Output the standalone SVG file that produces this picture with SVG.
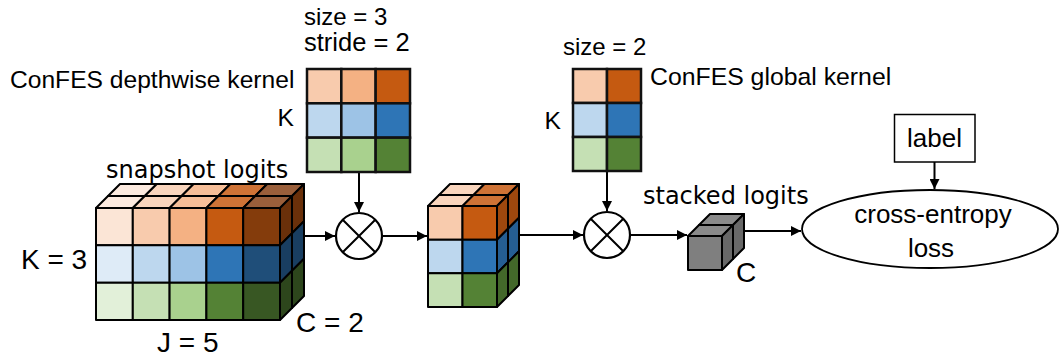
<svg xmlns="http://www.w3.org/2000/svg" width="1064" height="361" viewBox="0 0 1064 361">
  <style>
    .cell { stroke: #000; stroke-width: 2; stroke-linejoin: round; }
    .kcell { stroke: #111; stroke-width: 2.5; }
    .wire { stroke: #000; stroke-width: 2; fill: none; }
    .op { stroke: #000; stroke-width: 2.2; fill: #fff; }
    .cal { font-family: "Liberation Sans", Arial, sans-serif; font-size: 24.6px; fill: #000; }
    .ari { font-family: "Liberation Sans", Arial, sans-serif; font-size: 28px; fill: #000; }
    .dv { font-family: "DejaVu Sans", sans-serif; font-size: 24px; fill: #000; }
    .mid { text-anchor: middle; }
    .o1 { fill: #FBE5D6; } .o2 { fill: #F8CBAD; } .o3 { fill: #F4B183; } .o4 { fill: #C55A11; } .o5 { fill: #843C0C; }
    .b1 { fill: #DEEBF7; } .b2 { fill: #BDD7EE; } .b3 { fill: #9DC3E6; } .b4 { fill: #2E75B6; } .b5 { fill: #1F4E79; }
    .g1 { fill: #E2F0D9; } .g2 { fill: #C5E0B4; } .g3 { fill: #A9D18E; } .g4 { fill: #548235; } .g5 { fill: #385723; }
    .t1 { fill: #FCEADF; } .t2 { fill: #F9D5BD; } .t3 { fill: #F6BE98; } .t4 { fill: #CF7336; } .t5 { fill: #9A5F3B; }
    .ro4 { fill: #9E480E; } .ro5 { fill: #6A300A; }
    .rb4 { fill: #255E92; } .rb5 { fill: #193E61; }
    .rg4 { fill: #43682A; } .rg5 { fill: #2D461C; }
    .gf { fill: #7F7F7F; } .gt { fill: #8A8A8A; } .gr { fill: #686868; }
  </style>
  <defs>
    <marker id="arrow" viewBox="0 0 10 10" refX="10" refY="5" markerWidth="11" markerHeight="10" markerUnits="userSpaceOnUse" orient="auto">
      <path d="M0,0 L10,5 L0,10 z" fill="#000"/>
    </marker>
  </defs>

  <!-- connectors -->
  <g id="connectors">
    <line class="wire" x1="305" y1="236" x2="335" y2="236" marker-end="url(#arrow)"/>
    <line class="wire" x1="359" y1="172" x2="359" y2="212" marker-end="url(#arrow)"/>
    <line class="wire" x1="382" y1="236" x2="427" y2="236" marker-end="url(#arrow)"/>
    <line class="wire" x1="519" y1="235" x2="583" y2="235" marker-end="url(#arrow)"/>
    <line class="wire" x1="607" y1="171" x2="607" y2="211" marker-end="url(#arrow)"/>
    <line class="wire" x1="630" y1="235" x2="687" y2="235" marker-end="url(#arrow)"/>
    <line class="wire" x1="745" y1="231" x2="801" y2="231" marker-end="url(#arrow)"/>
    <line class="wire" x1="934.5" y1="162" x2="934.5" y2="189" marker-end="url(#arrow)"/>
  </g>

  <!-- snapshot logits: J x K x C block -->
  <g id="snapshot-logits">
    <!-- top face, front slice then back slice -->
    <polygon class="cell t1" points="96,208 132.8,208 144.8,196 108,196"/>
    <polygon class="cell t1" points="108,196 144.8,196 156.8,184 120,184"/>
    <polygon class="cell t2" points="132.8,208 169.6,208 181.6,196 144.8,196"/>
    <polygon class="cell t2" points="144.8,196 181.6,196 193.6,184 156.8,184"/>
    <polygon class="cell t3" points="169.6,208 206.4,208 218.4,196 181.6,196"/>
    <polygon class="cell t3" points="181.6,196 218.4,196 230.4,184 193.6,184"/>
    <polygon class="cell t4" points="206.4,208 243.2,208 255.2,196 218.4,196"/>
    <polygon class="cell t4" points="218.4,196 255.2,196 267.2,184 230.4,184"/>
    <polygon class="cell t5" points="243.2,208 280,208 292,196 255.2,196"/>
    <polygon class="cell t5" points="255.2,196 292,196 304,184 267.2,184"/>
    <!-- right face -->
    <polygon class="cell ro5" points="280,208 292,196 292,233.33 280,245.33"/>
    <polygon class="cell ro5" points="292,196 304,184 304,221.33 292,233.33"/>
    <polygon class="cell rb5" points="280,245.33 292,233.33 292,270.67 280,282.67"/>
    <polygon class="cell rb5" points="292,233.33 304,221.33 304,258.67 292,270.67"/>
    <polygon class="cell rg5" points="280,282.67 292,270.67 292,308 280,320"/>
    <polygon class="cell rg5" points="292,270.67 304,258.67 304,296 292,308"/>
    <!-- front face -->
    <rect class="cell o1" x="96" y="208" width="36.8" height="37.33"/>
    <rect class="cell o2" x="132.8" y="208" width="36.8" height="37.33"/>
    <rect class="cell o3" x="169.6" y="208" width="36.8" height="37.33"/>
    <rect class="cell o4" x="206.4" y="208" width="36.8" height="37.33"/>
    <rect class="cell o5" x="243.2" y="208" width="36.8" height="37.33"/>
    <rect class="cell b1" x="96" y="245.33" width="36.8" height="37.33"/>
    <rect class="cell b2" x="132.8" y="245.33" width="36.8" height="37.33"/>
    <rect class="cell b3" x="169.6" y="245.33" width="36.8" height="37.33"/>
    <rect class="cell b4" x="206.4" y="245.33" width="36.8" height="37.33"/>
    <rect class="cell b5" x="243.2" y="245.33" width="36.8" height="37.33"/>
    <rect class="cell g1" x="96" y="282.67" width="36.8" height="37.33"/>
    <rect class="cell g2" x="132.8" y="282.67" width="36.8" height="37.33"/>
    <rect class="cell g3" x="169.6" y="282.67" width="36.8" height="37.33"/>
    <rect class="cell g4" x="206.4" y="282.67" width="36.8" height="37.33"/>
    <rect class="cell g5" x="243.2" y="282.67" width="36.8" height="37.33"/>
    <text class="dv" x="106" y="178">snapshot logits</text>
    <text class="ari" x="21" y="269">K = 3</text>
    <text class="ari" x="296" y="332">C = 2</text>
    <text class="ari" x="157" y="352">J = 5</text>
  </g>

  <!-- depthwise kernel -->
  <g id="depthwise-kernel">
    <rect class="kcell o2" x="307" y="69" width="34.33" height="34.33"/>
    <rect class="kcell o3" x="341.33" y="69" width="34.33" height="34.33"/>
    <rect class="kcell o4" x="375.67" y="69" width="34.33" height="34.33"/>
    <rect class="kcell b2" x="307" y="103.33" width="34.33" height="34.33"/>
    <rect class="kcell b3" x="341.33" y="103.33" width="34.33" height="34.33"/>
    <rect class="kcell b4" x="375.67" y="103.33" width="34.33" height="34.33"/>
    <rect class="kcell g2" x="307" y="137.67" width="34.33" height="34.33"/>
    <rect class="kcell g3" x="341.33" y="137.67" width="34.33" height="34.33"/>
    <rect class="kcell g4" x="375.67" y="137.67" width="34.33" height="34.33"/>
    <text class="cal" x="304" y="25" style="font-size:24px">size = 3</text>
    <text class="cal" x="304" y="51" style="font-size:25.5px">stride = 2</text>
    <text class="cal" x="10" y="88">ConFES depthwise kernel</text>
    <text class="cal" x="294" y="126" text-anchor="end">K</text>
  </g>

  <!-- first product -->
  <g id="op-depthwise">
    <circle class="op" cx="359" cy="236" r="23"/>
    <path class="wire" d="M342.7,219.7 L375.3,252.3 M375.3,219.7 L342.7,252.3"/>
  </g>

  <!-- intermediate block -->
  <g id="intermediate-logits">
    <polygon class="cell t2" points="428,206 462.5,206 473.5,195 439,195"/>
    <polygon class="cell t2" points="439,195 473.5,195 484.5,184 450,184"/>
    <polygon class="cell t4" points="462.5,206 497,206 508,195 473.5,195"/>
    <polygon class="cell t4" points="473.5,195 508,195 519,184 484.5,184"/>
    <polygon class="cell ro4" points="497,206 508,195 508,228.67 497,239.67"/>
    <polygon class="cell ro4" points="508,195 519,184 519,217.67 508,228.67"/>
    <polygon class="cell rb4" points="497,239.67 508,228.67 508,262.33 497,273.33"/>
    <polygon class="cell rb4" points="508,228.67 519,217.67 519,251.33 508,262.33"/>
    <polygon class="cell rg4" points="497,273.33 508,262.33 508,296 497,307"/>
    <polygon class="cell rg4" points="508,262.33 519,251.33 519,285 508,296"/>
    <rect class="cell o2" x="428" y="206" width="34.5" height="33.67"/>
    <rect class="cell o4" x="462.5" y="206" width="34.5" height="33.67"/>
    <rect class="cell b2" x="428" y="239.67" width="34.5" height="33.67"/>
    <rect class="cell b4" x="462.5" y="239.67" width="34.5" height="33.67"/>
    <rect class="cell g2" x="428" y="273.33" width="34.5" height="33.67"/>
    <rect class="cell g4" x="462.5" y="273.33" width="34.5" height="33.67"/>
  </g>

  <!-- global kernel -->
  <g id="global-kernel">
    <rect class="kcell o2" x="573" y="69" width="34" height="34"/>
    <rect class="kcell o4" x="607" y="69" width="34" height="34"/>
    <rect class="kcell b2" x="573" y="103" width="34" height="34"/>
    <rect class="kcell b4" x="607" y="103" width="34" height="34"/>
    <rect class="kcell g2" x="573" y="137" width="34" height="34"/>
    <rect class="kcell g4" x="607" y="137" width="34" height="34"/>
    <text class="cal" x="563" y="55" style="font-size:24px">size = 2</text>
    <text class="cal" x="650" y="85" style="font-size:24.8px">ConFES global kernel</text>
    <text class="cal" x="561" y="129" text-anchor="end">K</text>
  </g>

  <!-- second product -->
  <g id="op-global">
    <circle class="op" cx="607" cy="235" r="23"/>
    <path class="wire" d="M590.7,218.7 L623.3,251.3 M623.3,218.7 L590.7,251.3"/>
  </g>

  <!-- stacked logits -->
  <g id="stacked-logits">
    <polygon class="cell gt" points="688,236 722,236 733,225 699,225"/>
    <polygon class="cell gt" points="699,225 733,225 744,214 710,214"/>
    <polygon class="cell gr" points="722,236 733,225 733,259 722,270"/>
    <polygon class="cell gr" points="733,225 744,214 744,248 733,259"/>
    <rect class="cell gf" x="688" y="236" width="34" height="34"/>
    <text class="dv" x="643" y="204">stacked logits</text>
    <text class="ari" x="736" y="282">C</text>
  </g>

  <!-- label -->
  <g id="label">
    <rect x="894.5" y="114.5" width="80.5" height="47.5" fill="#fff" stroke="#000" stroke-width="1.5"/>
    <text class="cal mid" x="934.5" y="147" style="font-size:26px">label</text>
  </g>

  <!-- loss -->
  <g id="loss">
    <ellipse cx="930" cy="229" rx="128" ry="39" fill="#fff" stroke="#000" stroke-width="1.8"/>
    <text class="cal mid" x="933" y="223" style="font-size:26px">cross-entropy</text>
    <text class="cal mid" x="931" y="257" style="font-size:26px">loss</text>
  </g>
</svg>
